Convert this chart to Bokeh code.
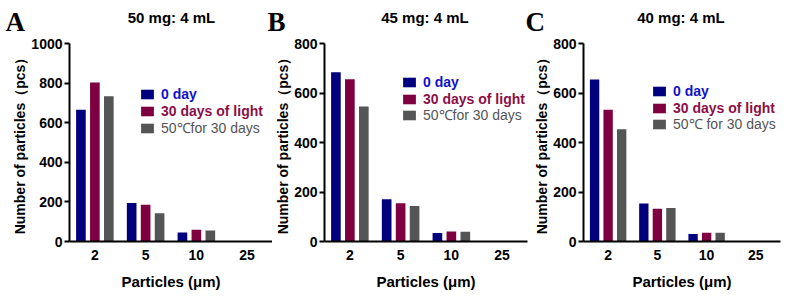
from bokeh.plotting import figure
from bokeh.layouts import row, column
from bokeh.models import (FactorRange, Range1d, Legend, LegendItem, Label,
                          FixedTicker, ColumnDataSource)
from bokeh.transform import dodge
from bokeh.embed import file_html
from bokeh.resources import INLINE

# ---------------- data ----------------
sizes = ["2", "5", "10", "25"]

a_title = "50 mg: 4 mL"
a_day0 = [665, 195, 45, 0]
a_light = [803, 185, 59, 0]
a_heat = [734, 143, 56, 0]
a_ticks = [0, 200, 400, 600, 800, 1000]

b_title = "45 mg: 4 mL"
b_day0 = [684, 171, 34, 0]
b_light = [656, 155, 40, 0]
b_heat = [545, 143, 39, 0]
b_ticks = [0, 200, 400, 600, 800]

c_title = "40 mg: 4 mL"
c_day0 = [655, 154, 30, 0]
c_light = [532, 132, 35, 0]
c_heat = [454, 135, 35, 0]
c_ticks = [0, 200, 400, 600, 800]

panel_letters = ["A", "B", "C"]
panel_titles = [a_title, b_title, c_title]

labels_ab = ["0 day", "30 days of light", "50\u2103for 30 days"]
labels_c = ["0 day", "30 days of light", "50\u2103 for 30 days"]

bar_colors = ["#00007F", "#7F0040", "#555555"]
text_colors = ["#1111CC", "#8B1045", "#555555"]
text_styles = ["bold", "bold", "normal"]

FONT = "Liberation Sans"
HEADER_H = 36

# ---------------- header strip (panel letters + titles) ----------------
letter_left = [5, 267, 525]
title_center = [171, 424.5, 680.5]

header = figure(width=787, height=HEADER_H, x_range=Range1d(0, 787),
                y_range=Range1d(HEADER_H, 0), x_axis_location=None,
                y_axis_location=None, min_border=0, toolbar_location=None,
                output_backend="svg", title=None)
header.outline_line_color = None
header.background_fill_color = "white"
header.border_fill_color = "white"
header.grid.visible = False
for i in range(3):
    header.add_layout(Label(x=letter_left[i], y=21.5, text=panel_letters[i],
                            text_font="Liberation Serif", text_font_size="27px",
                            text_font_style="bold", text_color="black",
                            text_align="left", text_baseline="middle"))
    header.add_layout(Label(x=title_center[i], y=16.5, text=panel_titles[i],
                            text_font=FONT, text_font_size="15px",
                            text_font_style="bold", text_color="black",
                            text_align="center", text_baseline="middle"))


def make_panel(ticks, day0, light, heat, labels, width, left, right,
               legend_x, legend_ys):
    src = ColumnDataSource(dict(x=sizes, d0=day0, d1=light, d2=heat))
    p = figure(width=width, height=297 - HEADER_H, x_range=FactorRange(*sizes),
               y_range=Range1d(ticks[0], ticks[-1]), title=None,
               output_backend="svg", toolbar_location=None,
               min_border_left=left, min_border_right=right,
               min_border_top=43 - HEADER_H, min_border_bottom=56)
    p.background_fill_color = "white"
    p.border_fill_color = "white"
    p.outline_line_color = None
    p.grid.grid_line_color = None

    renderers = []
    for i, (field, off) in enumerate(zip(["d0", "d1", "d2"], [-0.275, 0.0, 0.275])):
        r = p.vbar(x=dodge("x", off, range=p.x_range), top=field, width=0.19,
                   bottom=0, source=src, fill_color=bar_colors[i], line_color=None)
        renderers.append(r)

    xa = p.xaxis[0]
    xa.axis_label = "Particles (\u03bcm)"
    xa.axis_line_width = 2
    xa.axis_line_color = "black"
    xa.major_tick_line_color = None
    xa.major_tick_out = 0
    xa.major_tick_in = 0
    xa.minor_tick_line_color = None
    xa.major_label_standoff = 8
    xa.major_label_text_font = FONT
    xa.major_label_text_font_size = "14px"
    xa.major_label_text_font_style = "bold"
    xa.major_label_text_color = "black"
    xa.axis_label_standoff = 10
    xa.axis_label_text_font = FONT
    xa.axis_label_text_font_size = "15px"
    xa.axis_label_text_font_style = "bold"
    xa.axis_label_text_color = "black"

    ya = p.yaxis[0]
    ya.ticker = FixedTicker(ticks=ticks)
    ya.axis_label = "Number of particles\uff08pcs\uff09"
    ya.axis_line_width = 2
    ya.axis_line_color = "black"
    ya.major_tick_line_width = 2
    ya.major_tick_out = 5
    ya.major_tick_in = 0
    ya.minor_tick_line_color = None
    ya.major_label_standoff = 2
    ya.major_label_text_font = FONT
    ya.major_label_text_font_size = "14px"
    ya.major_label_text_font_style = "bold"
    ya.major_label_text_color = "black"
    ya.axis_label_standoff = 0
    ya.axis_label_text_font = FONT
    ya.axis_label_text_font_size = "14px"
    ya.axis_label_text_font_style = "bold"
    ya.axis_label_text_color = "black"

    # one legend per item so each label keeps its own colour
    for i in range(3):
        lg = Legend(items=[LegendItem(label=labels[i], renderers=[renderers[i]])],
                    location=(legend_x, legend_ys[i]),
                    glyph_width=16, glyph_height=12, label_height=12,
                    label_standoff=6, padding=0, margin=0, spacing=0,
                    border_line_color=None, background_fill_alpha=0,
                    label_text_font=FONT, label_text_font_size="14px",
                    label_text_font_style=text_styles[i],
                    label_text_color=text_colors[i])
        p.add_layout(lg, "center")
    return p


pa = make_panel(a_ticks, a_day0, a_light, a_heat, labels_ab,
                272, 69, 0, 70, [139, 122, 104])
pb = make_panel(b_ticks, b_day0, b_light, b_heat, labels_ab,
                259, 50, 4, 77, [151, 134, 117])
pc = make_panel(c_ticks, c_day0, c_light, c_heat, labels_c,
                256, 50, 7, 68, [142, 125, 108])

layout = column(header, row(pa, pb, pc, spacing=0), spacing=0)
open("out.html", "w").write(file_html(layout, INLINE))
